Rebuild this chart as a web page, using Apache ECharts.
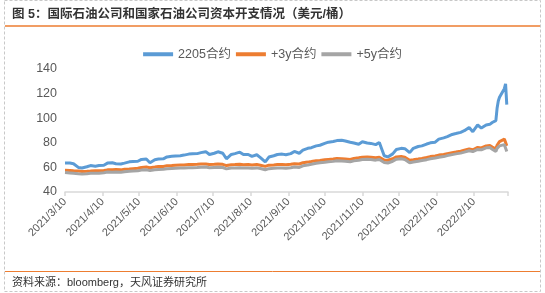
<!DOCTYPE html>
<html><head><meta charset="utf-8">
<script src="https://cdn.jsdelivr.net/npm/echarts@6/dist/echarts.min.js"></script>
<style>html,body{margin:0;padding:0;background:#fff}#c{width:545px;height:293px}</style>
</head><body><div id="c"></div>
<script>
// Tick labels (10th of each month)
const tickMonths = [[2021,3],[2021,4],[2021,5],[2021,6],[2021,7],[2021,8],[2021,9],[2021,10],[2021,11],[2021,12],[2022,1],[2022,2]];
const axisEnd = [2022,3,10];
const legendNames = ['2205合约', '+3y合约', '+5y合约'];

// Observation dates: roughly twice a week, then daily business days at the end
const startDate = [2021,3,10];
const tailDates = ['2022-02-25','2022-02-28','2022-03-01','2022-03-02','2022-03-03','2022-03-04','2022-03-07','2022-03-08','2022-03-09'];

const blue = [63.5,63.5,63,60,59.5,60.5,61.5,61,61.5,61.8,
63.5,63.8,63,62.8,63.5,64.5,64.8,65,66.5,66.8,
63.8,66.3,66.8,67,68.5,69,69.3,69.5,70,70.8,
71,71.2,72,72.8,70.5,71.5,72.7,71.5,67,70.5,
71.2,72.4,70.5,70.5,69,70.3,68,64.5,68.4,69.5,
70.5,70.8,70.3,71.2,73,71.5,74,75.5,76,77.5,
78,79.5,80.5,81,81.8,82,81.5,80.5,79.8,78.8,
80.8,79.8,79.5,78.5,80.3,69.5,68.5,71,74.5,75.5,
75.2,72,75.5,77,77.5,79,80,80.5,83,84,
85,86.8,87.5,88.5,89.8,92.5,89,94.5,92,94.5,
95,
96.5,98,108,114,117,118.5,124,128,111];

const orange = [57.6,57.5,57.2,57,56.7,56.8,57,57.3,57.2,57.5,
58,58,58.2,58,58.5,58.7,59,59.3,60,60.3,
59.8,60.3,60.7,60.8,61.3,61.5,61.8,62,62,62.3,
62.3,62.5,62.7,62.8,62.3,62.5,62.7,62.5,61.5,62.2,
62.3,62.5,62.2,62.3,62,62.3,61.8,60.8,61.8,62,
62.3,62.3,62.2,62.5,63,62.8,63.8,64.3,64.8,65.5,
65.7,66.2,66.5,66.8,67.2,67,66.8,66.5,67.3,67.8,
68.3,68.5,68.3,67.8,68.3,66,65.8,67,68.5,68.8,
68.3,65.8,66.2,66.8,67.3,68,68.8,69.3,70,70.5,
71.2,72,72.5,73.2,74,75,74.3,76.2,75.8,77.5,
77.8,
76.5,75,78,79.5,81,82,83,82.5,77.5];

const grey = [55.8,55.5,55.2,54.8,54.6,54.8,55.2,55.3,55.2,55.6,
56.2,56,56.3,56,56.5,56.8,57,57.2,57.8,58,
57.5,58,58.3,58.5,58.9,59.2,59.4,59.6,59.6,59.8,
59.8,60,60.2,60.3,59.7,60,60.1,59.9,58.8,59.5,
59.6,59.8,59.5,59.6,59.3,59.6,59.1,58.1,59,59.3,
59.5,59.6,59.4,59.8,60.3,60,61.3,61.9,62.5,63.3,
63.7,64.2,64.6,64.9,65.4,65.2,65,64.6,65.3,65.8,
66.4,66.6,66.4,65.9,66.4,64,63.6,65,66.7,67,
66.5,63.8,64.4,65,65.6,66.3,67,67.6,68.3,68.8,
69.6,70.4,71,71.6,72.4,73.5,72.8,74.6,74.3,75.9,
76.1,
74.8,73,75.5,76.8,77.5,78,78.5,78,73];

// ---- x positions as day offsets from start date ----
const DAY = 86400000;
const t0 = new Date(startDate[0], startDate[1]-1, startDate[2]);
const dayOf = (y,m,d) => Math.round((new Date(y, m-1, d) - t0) / DAY);
const days = [];
for (let i = 0; i <= 100; i++) days.push(Math.round(i*3.5));
tailDates.forEach(s => { const p = s.split('-').map(Number); days.push(dayOf(p[0], p[1], p[2])); });

const labelVals = tickMonths.map(([y,m]) => dayOf(y, m, 10));
const endDay = dayOf(axisEnd[0], axisEnd[1], axisEnd[2]);
const tickVals = labelVals.concat([endDay]);
const fmtDay = v => { const d = new Date(t0.getTime() + v*DAY + 3600000*12); return d.getFullYear() + '/' + (d.getMonth()+1) + '/' + d.getDate(); };

const toPairs = arr => arr.map((v,i) => [days[i], v]);
const FONT = "'Liberation Sans', 'Noto Sans CJK SC', sans-serif";

const chart = echarts.init(document.getElementById('c'), null, {renderer:'canvas'});
chart.setOption({
  animation: false,
  color: ['#5B9BD5', '#ED7D31', '#A5A5A5'],
  textStyle: {fontFamily: FONT},
  grid: {left: 65, right: 37, top: 69, bottom: 101, containLabel: false, outerBoundsMode: 'none'},
  legend: {
    top: 43, left: 'center', icon: 'rect', itemWidth: 30, itemHeight: 4, itemGap: 5,
    textStyle: {color: '#595959', fontSize: 12.5, fontFamily: FONT},
    data: legendNames
  },
  xAxis: {
    type: 'value', min: 0, max: endDay,
    axisLine: {lineStyle: {color: '#d9d9d9', width: 1.5}},
    axisTick: {show: true, length: 4, lineStyle: {color: '#d9d9d9', width: 1.5}, customValues: tickVals},
    splitLine: {show: false},
    axisLabel: {
      customValues: labelVals, rotate: 45, color: '#595959', fontSize: 11, margin: 8, fontFamily: FONT,
      formatter: v => fmtDay(v)
    }
  },
  yAxis: {
    type: 'value', min: 40, max: 140, interval: 20,
    axisLine: {show: false}, axisTick: {show: false}, splitLine: {show: false},
    axisLabel: {color: '#595959', fontSize: 12.5, margin: 8, fontFamily: FONT}
  },
  series: [
    {name: legendNames[0], type: 'line', showSymbol: false, lineStyle: {width: 3}, data: toPairs(blue)},
    {name: legendNames[1], type: 'line', showSymbol: false, lineStyle: {width: 3}, data: toPairs(orange)},
    {name: legendNames[2], type: 'line', showSymbol: false, lineStyle: {width: 3}, data: toPairs(grey)}
  ],
  graphic: [
    {type: 'rect', shape: {x: 4.5, y: 0.5, width: 536, height: 291}, style: {fill: 'none', stroke: '#c8c8c8', lineWidth: 1, lineDash: [3,2]}, silent: true, z: -1},
    {type: 'text', left: 12, top: 8, style: {text: '图 5：国际石油公司和国家石油公司资本开支情况（美元/桶）', font: 'bold 12.5px ' + FONT, fill: '#333333'}},
    {type: 'line', shape: {x1: 5, y1: 26, x2: 540, y2: 26}, style: {stroke: '#ED7D31', lineWidth: 1.5}},
    {type: 'line', shape: {x1: 5, y1: 271.5, x2: 540, y2: 271.5}, style: {stroke: '#ED7D31', lineWidth: 1}},
    {type: 'text', left: 12, top: 277, style: {text: '资料来源：bloomberg，天风证券研究所', font: '11px ' + FONT, fill: '#333333'}}
  ]
});
</script></body></html>
